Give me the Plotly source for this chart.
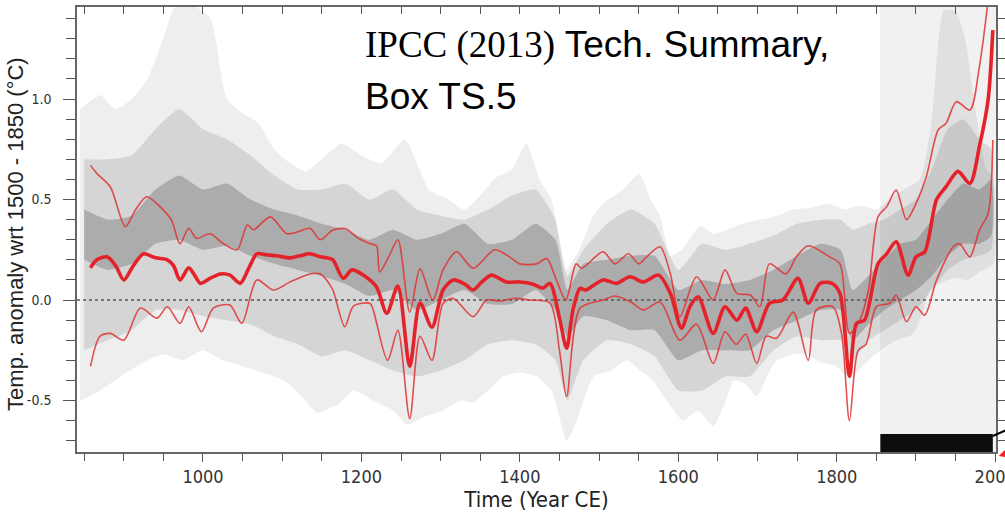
import plotly.graph_objects as go

# ---------------- data ----------------
mean_years = [858, 866, 879, 890, 900, 912, 925, 940, 955, 963, 971, 982, 990, 997, 1010, 1022, 1034, 1047,
              1058, 1068, 1080, 1093, 1110, 1122, 1135, 1148, 1156, 1164, 1177, 1188, 1204, 1219, 1232, 1246,
              1261, 1274, 1289, 1303, 1316, 1330, 1341, 1352, 1364, 1383, 1400, 1416, 1429, 1438, 1450, 1459,
              1467, 1476, 1483, 1505, 1522, 1539, 1556, 1575, 1590, 1604, 1615, 1625, 1644, 1659, 1674, 1685,
              1699, 1715, 1732, 1751, 1764, 1779, 1794, 1804, 1816, 1825, 1835, 1852, 1863, 1875, 1890, 1900,
              1911, 1926, 1938, 1953, 1968, 1980, 1991, 1997]
mean_vals = [0.16, 0.20, 0.215, 0.17, 0.10, 0.17, 0.23, 0.21, 0.20, 0.17, 0.10, 0.16, 0.12, 0.083, 0.11, 0.13,
             0.124, 0.083, 0.16, 0.23, 0.225, 0.22, 0.21, 0.22, 0.23, 0.215, 0.21, 0.20, 0.108, 0.15, 0.12, 0.066,
             -0.066, 0.07, -0.33, -0.015, -0.135, 0.05, 0.10, 0.08, 0.05, 0.09, 0.124, 0.09, 0.09, 0.08, 0.06,
             0.083, -0.09, -0.24, -0.05, 0.058, 0.05, 0.10, 0.083, 0.116, 0.09, 0.124, 0.033, -0.14, -0.03,
             0.016, -0.166, -0.033, -0.10, -0.04, -0.158, -0.016, 0.0, 0.108, -0.016, 0.083, 0.083, 0.033,
             -0.38, -0.116, -0.10, 0.18, 0.23, 0.29, 0.124, 0.215, 0.24, 0.50, 0.564, 0.64, 0.58, 0.763, 0.995,
             1.343]

upper_years = [858, 866, 883, 902, 915, 929, 946, 960, 971, 982, 992, 1009, 1026, 1043, 1056, 1064, 1085, 1106,
               1120, 1135, 1148, 1164, 1180, 1195, 1211, 1219, 1223, 1235, 1246, 1261, 1274, 1290, 1303, 1320,
               1341, 1368, 1387, 1400, 1421, 1434, 1446, 1458, 1471, 1478, 1505, 1520, 1537, 1550, 1560, 1577,
               1590, 1602, 1623, 1644, 1659, 1674, 1691, 1703, 1715, 1736, 1749, 1764, 1791, 1804, 1816, 1829,
               1840, 1852, 1863, 1875, 1888, 1900, 1913, 1928, 1938, 1951, 1968, 1980, 1991]
upper_vals = [0.67, 0.63, 0.564, 0.365, 0.45, 0.514, 0.464, 0.40, 0.28, 0.357, 0.307, 0.33, 0.28, 0.25, 0.373,
              0.35, 0.414, 0.33, 0.34, 0.357, 0.30, 0.348, 0.355, 0.31, 0.28, 0.27, 0.14, 0.22, 0.30, -0.06,
              0.155, 0.0, 0.15, 0.24, 0.158, 0.25, 0.215, 0.18, 0.18, 0.207, 0.10, 0.0, 0.18, 0.158, 0.24, 0.18,
              0.23, 0.18, 0.215, 0.265, 0.13, -0.083, 0.116, 0.0, 0.15, 0.033, 0.025, -0.033, 0.18, 0.13, 0.215,
              0.27, 0.215, 0.18, -0.166, -0.10, 0.05, 0.414, 0.465, 0.547, 0.40, 0.48, 0.613, 0.846, 0.88, 0.987,
              0.945, 1.16, 1.49]

lower_years = [858, 870, 883, 900, 921, 942, 955, 971, 982, 998, 1013, 1034, 1049, 1068, 1089, 1110, 1135, 1148,
               1156, 1164, 1179, 1190, 1211, 1215, 1233, 1246, 1261, 1274, 1289, 1303, 1316, 1341, 1358, 1375,
               1392, 1413, 1438, 1450, 1459, 1476, 1505, 1520, 1540, 1556, 1577, 1602, 1623, 1644, 1659, 1673,
               1685, 1699, 1711, 1724, 1745, 1764, 1774, 1795, 1806, 1816, 1827, 1837, 1850, 1867, 1875, 1888,
               1900, 1911, 1926, 1947, 1955, 1968, 1980, 1991, 1997]
lower_vals = [-0.33, -0.18, -0.166, -0.20, -0.04, -0.09, -0.033, -0.116, -0.033, -0.158, -0.04, -0.025, -0.116,
              0.10, 0.05, 0.09, 0.13, 0.13, 0.10, 0.05, -0.133, -0.03, -0.017, -0.05, -0.30, -0.15, -0.59, -0.18,
              -0.30, -0.017, 0.008, -0.083, 0.0, -0.005, 0.008, 0.0, -0.016, -0.25, -0.48, -0.04, 0.0, 0.02,
              -0.01, -0.05, -0.01, -0.20, -0.12, -0.315, -0.158, -0.22, -0.17, -0.315, -0.18, -0.19, -0.06, -0.30,
              -0.05, -0.033, -0.166, -0.60, -0.25, -0.22, -0.033, -0.016, 0.025, -0.108, -0.033, -0.075, 0.10,
              0.265, 0.28, 0.215, 0.348, 0.43, 0.796]

# grey ensemble envelopes
outer_up_years = [845, 870, 890, 910, 930, 950, 965, 990, 1010, 1030, 1050, 1070, 1090, 1110, 1130, 1150, 1175,
                  1200, 1225, 1255, 1285, 1310, 1330, 1350, 1370, 1390, 1408, 1425, 1440, 1458, 1476, 1490, 1505,
                  1530, 1551, 1565, 1577, 1590, 1605, 1627, 1645, 1661, 1680, 1703, 1725, 1745, 1770, 1790, 1810,
                  1830, 1850, 1867, 1885, 1905, 1920, 1935, 1950, 1962, 1975, 1988, 1998]
outer_up_vals = [0.95, 1.02, 0.95, 1.0, 1.1, 1.3, 1.46, 1.46, 1.4, 1.0, 0.93, 0.88, 0.75, 0.68, 0.64, 0.70, 0.78,
                 0.72, 0.68, 0.80, 0.55, 0.50, 0.45, 0.52, 0.61, 0.65, 0.78, 0.60, 0.50, 0.15, 0.26, 0.40, 0.48,
                 0.55, 0.63, 0.50, 0.42, 0.22, 0.25, 0.37, 0.33, 0.35, 0.38, 0.40, 0.42, 0.45, 0.46, 0.48, 0.45,
                 0.47, 0.45, 0.50, 0.55, 0.60, 0.90, 1.44, 1.44, 1.30, 0.95, 0.66, 0.60]
outer_lo_years = [845, 870, 904, 930, 950, 975, 1000, 1025, 1051, 1075, 1102, 1125, 1144, 1170, 1190, 1215, 1240,
                  1257, 1280, 1303, 1325, 1341, 1360, 1379, 1400, 1421, 1440, 1459, 1470, 1493, 1515, 1535, 1552,
                  1568, 1585, 1606, 1625, 1644, 1660, 1670, 1685, 1699, 1712, 1724, 1745, 1762, 1779, 1800, 1816,
                  1835, 1855, 1875, 1896, 1910, 1917, 1947, 1965, 1980, 1998]
outer_lo_vals = [-0.50, -0.45, -0.36, -0.30, -0.27, -0.30, -0.25, -0.30, -0.33, -0.36, -0.40, -0.48, -0.56, -0.52,
                 -0.45, -0.50, -0.55, -0.62, -0.58, -0.55, -0.50, -0.51, -0.45, -0.38, -0.36, -0.38, -0.45, -0.70,
                 -0.62, -0.38, -0.35, -0.30, -0.35, -0.40, -0.50, -0.60, -0.55, -0.63, -0.50, -0.40, -0.42, -0.48,
                 -0.38, -0.30, -0.27, -0.27, -0.31, -0.33, -0.39, -0.32, -0.25, -0.20, -0.17, -0.05, 0.05, 0.11,
                 0.10, 0.14, 0.18]

band_years = [850, 880, 910, 940, 970, 1000, 1030, 1060, 1090, 1120, 1150, 1180, 1210, 1240, 1270, 1300, 1330,
              1360, 1390, 1420, 1445, 1460, 1480, 1510, 1540, 1570, 1600, 1630, 1660, 1690, 1720, 1750, 1780,
              1805, 1820, 1840, 1860, 1880, 1900, 1920, 1940, 1960, 1980, 1995]
mid_up = [0.70, 0.70, 0.72, 0.85, 0.95, 0.85, 0.80, 0.72, 0.62, 0.55, 0.55, 0.58, 0.50, 0.55, 0.45, 0.42, 0.40,
          0.45, 0.52, 0.55, 0.40, 0.12, 0.25, 0.38, 0.45, 0.38, 0.15, 0.28, 0.25, 0.28, 0.32, 0.38, 0.40, 0.40,
          0.35, 0.38, 0.40, 0.45, 0.50, 0.65, 0.85, 0.90, 0.80, 0.75]
mid_lo = [-0.25, -0.20, -0.15, -0.05, -0.05, -0.08, -0.10, -0.12, -0.18, -0.22, -0.28, -0.25, -0.30, -0.35, -0.38,
          -0.35, -0.30, -0.22, -0.20, -0.22, -0.30, -0.50, -0.30, -0.20, -0.22, -0.28, -0.45, -0.45, -0.38, -0.38,
          -0.25, -0.18, -0.20, -0.20, -0.30, -0.20, -0.15, -0.10, -0.05, 0.05, 0.15, 0.20, 0.22, 0.25]
core_up = [0.45, 0.40, 0.42, 0.55, 0.62, 0.55, 0.58, 0.50, 0.45, 0.42, 0.38, 0.35, 0.30, 0.35, 0.30, 0.33, 0.38,
           0.28, 0.30, 0.38, 0.30, 0.05, 0.18, 0.20, 0.22, 0.22, 0.05, 0.10, 0.08, 0.10, 0.15, 0.22, 0.28, 0.25,
           0.05, 0.12, 0.20, 0.28, 0.30, 0.40, 0.50, 0.58, 0.55, 0.60]
core_lo = [0.20, 0.15, 0.18, 0.28, 0.30, 0.25, 0.27, 0.22, 0.18, 0.15, 0.12, 0.08, 0.02, 0.05, -0.05, 0.00, 0.05,
           -0.02, -0.02, 0.05, -0.05, -0.18, -0.08, -0.10, -0.15, -0.15, -0.30, -0.25, -0.25, -0.25, -0.15, -0.10,
           -0.05, -0.05, -0.20, -0.12, -0.05, 0.00, 0.05, 0.12, 0.22, 0.28, 0.28, 0.32]

x_range = [841, 2001]
y_range = [-0.756, 1.458]
instrumental_start = 1855
instrumental_end = 1997

# ---------------- figure ----------------
fig = go.Figure()


def band(xu, yu, xl, yl, color):
    fig.add_trace(go.Scatter(
        x=list(xu) + list(xl)[::-1], y=list(yu) + list(yl)[::-1],
        fill="toself", fillcolor=color, mode="lines", line=dict(width=0, shape="spline", smoothing=0.5),
        hoverinfo="skip", showlegend=False))


band(outer_up_years, outer_up_vals, outer_lo_years, outer_lo_vals, "rgba(0,0,0,0.065)")
band(band_years, mid_up, band_years, mid_lo, "rgba(0,0,0,0.10)")
band(band_years, core_up, band_years, core_lo, "rgba(40,40,40,0.23)")

# zero reference (dotted)
fig.add_trace(go.Scatter(x=x_range, y=[0, 0], mode="lines",
                         line=dict(color="#555555", width=1.5, dash="dot"),
                         hoverinfo="skip", showlegend=False))

thin = dict(color="rgba(222,50,50,0.85)", width=1.6, shape="spline", smoothing=0.8)
fig.add_trace(go.Scatter(x=upper_years, y=upper_vals, mode="lines", line=thin, showlegend=False))
fig.add_trace(go.Scatter(x=lower_years, y=lower_vals, mode="lines", line=thin, showlegend=False))
fig.add_trace(go.Scatter(x=mean_years, y=mean_vals, mode="lines",
                         line=dict(color="#e4222a", width=3.6, shape="spline", smoothing=0.8),
                         showlegend=False))

# invisible trace for the top (inward ticks) axis
fig.add_trace(go.Scatter(x=x_range, y=[0, 0], xaxis="x2", mode="markers",
                         marker=dict(opacity=0), hoverinfo="skip", showlegend=False))

# instrumental-period shading and black bar
fig.add_shape(type="rect", xref="x", yref="y", x0=instrumental_start, x1=x_range[1],
              y0=y_range[0], y1=y_range[1], fillcolor="#f1f1f1", line_width=0, layer="below")
fig.add_shape(type="rect", xref="x", yref="y", x0=instrumental_start, x1=instrumental_end,
              y0=y_range[0], y1=-0.667, fillcolor="#0d0d0d", line_width=0, layer="above")
fig.add_shape(type="line", xref="paper", yref="paper", x0=0.9967, y0=0.036, x1=1.012, y1=0.05,
              line=dict(color="black", width=2))

narrow = "Liberation Sans Narrow, Arial Narrow, DejaVu Sans Condensed, Liberation Sans, Arial, sans-serif"
sans = "Liberation Sans, Arial, sans-serif"
serif_span = '<span style="font-family:\'Liberation Serif\', \'Times New Roman\', serif">IPCC (2013)</span>'

fig.add_annotation(xref="paper", yref="paper", x=0.311, y=0.915, xanchor="left", yanchor="middle",
                   align="left", showarrow=False, text=serif_span + " Tech. Summary,",
                   font=dict(family=sans, size=37, color="black"))
fig.add_annotation(xref="paper", yref="paper", x=0.311, y=0.798, xanchor="left", yanchor="middle",
                   align="left", showarrow=False, text="Box TS.5",
                   font=dict(family=sans, size=37, color="black"))

# y-axis title placed as a rotated annotation
fig.add_annotation(xref="paper", yref="paper", x=-0.0664, y=0.49, xanchor="center", yanchor="middle",
                   textangle=-90, showarrow=False, text="Temp. anomaly wrt 1500 - 1850 (°C)",
                   font=dict(family=sans, size=22, color="#222"))

fig.add_annotation(xref="paper", yref="paper", x=1.003, y=-0.009, ax=14, ay=-2, text="",
                   showarrow=True, arrowhead=2, arrowsize=1, arrowwidth=2.5, arrowcolor="#ff1a1a")

fig.update_layout(
    width=1005, height=521,
    margin=dict(l=77, r=9, t=7, b=69, autoexpand=False),
    paper_bgcolor="white", plot_bgcolor="white",
    xaxis=dict(range=x_range, tickvals=[1000, 1200, 1400, 1600, 1800, 2000], automargin=False,
               ticklabeloverflow="allow",
               ticks="outside", ticklen=8, tickwidth=1.3, tickcolor="#555",
               minor=dict(dtick=50, tick0=850, ticks="outside", ticklen=7, tickwidth=1.3, tickcolor="#555"),
               showline=True, linecolor="#666", linewidth=1.5, mirror=True,
               showgrid=False, zeroline=False,
               tickfont=dict(family=narrow, size=18, color="#333"),
               title=dict(text="Time (Year CE)", font=dict(family=narrow, size=22, color="#222"), standoff=0)),
    xaxis2=dict(range=x_range, overlaying="x", side="top", tickvals=list(range(850, 2001, 50)),
                ticks="inside", ticklen=7, tickwidth=1.3, tickcolor="#555", automargin=False,
                showticklabels=False, showline=False, showgrid=False, zeroline=False),
    yaxis=dict(range=y_range, tickvals=[-0.5, 0.0, 0.5, 1.0], ticktext=["-0.5", "0.0", "0.5", "1.0"],
               automargin=False,
               ticks="outside", ticklen=12, tickwidth=1.3, tickcolor="#555",
               minor=dict(dtick=0.1, tick0=0, ticks="outside", ticklen=9, tickwidth=1.3, tickcolor="#555"),
               showline=True, linecolor="#666", linewidth=1.5, mirror="ticks",
               showgrid=False, zeroline=False, ticklabelstandoff=9,
               tickfont=dict(family=narrow, size=14, color="#333")),
)

fig.write_html("out.html", config={"displayModeBar": False},
               post_script="document.body.style.margin='0';document.body.style.overflow='hidden';")
